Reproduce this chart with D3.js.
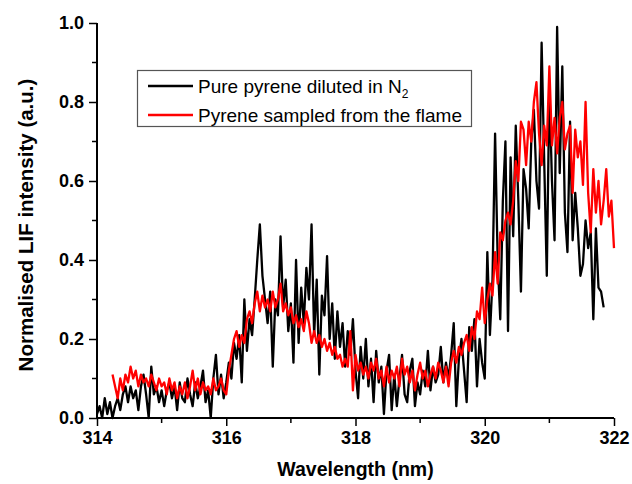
<!DOCTYPE html>
<html>
<head>
<meta charset="utf-8">
<script src="https://cdn.jsdelivr.net/npm/d3@7/dist/d3.min.js"></script>
<style>
  html, body { margin: 0; padding: 0; background: #fff; }
  svg { display: block; font-family: "Liberation Sans", Arial, Helvetica, sans-serif; }
</style>
</head>
<body>
<svg id="chart" width="632" height="484"></svg>
<script>
// LIF excitation spectra of pyrene, sampled every 0.04 nm
const wavelengthStep = 0.04;
const pureStart = 314.00;   // pure pyrene diluted in N2
const flameStart = 314.24;  // pyrene sampled from the flame

const pureIntensity = [
  0.01, 0.03, 0.00, 0.05, 0.01, 0.04, 0.00, 0.03, 0.05, 0.02,
  0.06, 0.08, 0.04, 0.08, 0.05, 0.07, 0.02, 0.08, 0.11, 0.06,
  0.00, 0.13, 0.06, 0.08, 0.04, 0.07, 0.03, 0.07, 0.09, 0.05,
  0.08, 0.02, 0.09, 0.05, 0.04, 0.10, 0.06, 0.03, 0.09, 0.05,
  0.08, 0.12, 0.04, 0.07, 0.00, 0.10, 0.16, 0.06, 0.11, 0.05,
  0.09, 0.14, 0.10, 0.19, 0.15, 0.21, 0.09, 0.30, 0.17, 0.25,
  0.21, 0.30, 0.40, 0.49, 0.36, 0.30, 0.24, 0.32, 0.13, 0.30,
  0.26, 0.46, 0.28, 0.35, 0.22, 0.29, 0.14, 0.40, 0.19, 0.33,
  0.24, 0.38, 0.30, 0.49, 0.21, 0.35, 0.11, 0.31, 0.26, 0.41,
  0.20, 0.29, 0.15, 0.27, 0.18, 0.24, 0.13, 0.22, 0.16, 0.25,
  0.12, 0.05, 0.18, 0.10, 0.20, 0.08, 0.15, 0.04, 0.17, 0.09,
  0.13, 0.01, 0.12, 0.16, 0.02, 0.11, 0.03, 0.10, 0.16, 0.06,
  0.04, 0.12, 0.15, 0.03, 0.09, 0.06, 0.12, 0.08, 0.17, 0.07,
  0.13, 0.09, 0.11, 0.18, 0.09, 0.14, 0.10, 0.16, 0.24, 0.03,
  0.15, 0.20, 0.12, 0.04, 0.23, 0.17, 0.25, 0.08, 0.20, 0.14,
  0.10, 0.42, 0.21, 0.35, 0.72, 0.40, 0.25, 0.55, 0.70, 0.22,
  0.66, 0.46, 0.74, 0.55, 0.32, 0.63, 0.58, 0.48, 0.70, 0.78,
  0.60, 0.53, 0.95, 0.65, 0.36, 0.84, 0.60, 0.45, 0.99, 0.62,
  0.89, 0.52, 0.42, 0.75, 0.45, 0.57, 0.48, 0.36, 0.39, 0.50,
  0.43, 0.47, 0.25, 0.48, 0.33, 0.32, 0.28
];

const flameIntensity = [
  0.11, 0.08, 0.05, 0.10, 0.07, 0.11, 0.09, 0.13, 0.10, 0.12,
  0.08, 0.11, 0.09, 0.10, 0.08, 0.11, 0.09, 0.07, 0.10, 0.08,
  0.09, 0.06, 0.10, 0.07, 0.09, 0.05, 0.08, 0.06, 0.09, 0.05,
  0.08, 0.12, 0.07, 0.10, 0.06, 0.09, 0.07, 0.08, 0.06, 0.10,
  0.07, 0.08, 0.10, 0.07, 0.06, 0.12, 0.16, 0.20, 0.22, 0.18,
  0.21, 0.19, 0.25, 0.27, 0.24, 0.29, 0.32, 0.27, 0.31, 0.28,
  0.30, 0.27, 0.32, 0.28, 0.30, 0.34, 0.27, 0.29, 0.26, 0.28,
  0.24, 0.26, 0.23, 0.25, 0.22, 0.27, 0.24, 0.19, 0.22, 0.19,
  0.21, 0.18, 0.20, 0.17, 0.19, 0.16, 0.18, 0.15, 0.16, 0.13,
  0.15, 0.13, 0.22, 0.07, 0.16, 0.12, 0.14, 0.11, 0.13, 0.10,
  0.14, 0.12, 0.15, 0.10, 0.12, 0.08, 0.13, 0.09, 0.12, 0.10,
  0.13, 0.08, 0.15, 0.11, 0.13, 0.09, 0.12, 0.07, 0.11, 0.14,
  0.10, 0.12, 0.08, 0.11, 0.13, 0.10, 0.14, 0.12, 0.09, 0.13,
  0.08, 0.14, 0.17, 0.14, 0.18, 0.16, 0.19, 0.21, 0.17, 0.23,
  0.20, 0.27, 0.25, 0.33, 0.24, 0.30, 0.34, 0.31, 0.42, 0.34,
  0.47, 0.45, 0.50, 0.52, 0.49, 0.55, 0.65, 0.60, 0.75, 0.73,
  0.64, 0.75, 0.70, 0.80, 0.85, 0.72, 0.64, 0.74, 0.69, 0.89,
  0.69, 0.76, 0.67, 0.76, 0.80, 0.68, 0.72, 0.74, 0.57, 0.73,
  0.66, 0.70, 0.59, 0.80, 0.57, 0.47, 0.63, 0.52, 0.60, 0.49,
  0.55, 0.63, 0.51, 0.55, 0.43
];

const xTickValues = [314, 316, 318, 320, 322];
const xMinorTicks = [315, 317, 319, 321];
const yTickValues = [0.0, 0.2, 0.4, 0.6, 0.8, 1.0];
const yMinorTicks = [0.1, 0.3, 0.5, 0.7, 0.9];

const seriesNames = ["Pure pyrene diluted in N", "Pyrene sampled from the flame"];
const seriesColors = ["#000000", "#ff0000"];

const svg = d3.select("#chart");
const plot = { left: 97, right: 614, top: 23, bottom: 418 };

const x = d3.scaleLinear().domain([314, 322]).range([plot.left, plot.right]);
const y = d3.scaleLinear().domain([0, 1]).range([plot.bottom, plot.top]);

const toPoints = (start, values) => values.map((v, i) => ({ w: start + i * wavelengthStep, v }));
const pureData = toPoints(pureStart, pureIntensity);
const flameData = toPoints(flameStart, flameIntensity);

const line = d3.line().x(d => x(d.w)).y(d => y(d.v));

// spectra: pure pyrene underneath, flame sample on top
svg.append("path").datum(pureData)
  .attr("d", line).attr("fill", "none")
  .attr("stroke", seriesColors[0]).attr("stroke-width", 2.3).attr("stroke-linejoin", "round");
svg.append("path").datum(flameData)
  .attr("d", line).attr("fill", "none")
  .attr("stroke", seriesColors[1]).attr("stroke-width", 2.3).attr("stroke-linejoin", "round");

// axes
const xAxis = svg.append("g").attr("transform", `translate(0,${plot.bottom})`)
  .call(d3.axisBottom(x).tickValues(xTickValues).tickFormat(d3.format("d"))
    .tickSize(8).tickPadding(5));
xAxis.append("g").selectAll("line").data(xMinorTicks).join("line")
  .attr("x1", d => x(d)).attr("x2", d => x(d)).attr("y1", 0).attr("y2", 5)
  .attr("stroke", "#000").attr("stroke-width", 1.5);

const yAxis = svg.append("g").attr("transform", `translate(${plot.left},0)`)
  .call(d3.axisLeft(y).tickValues(yTickValues).tickFormat(d3.format(".1f"))
    .tickSize(8).tickPadding(5));
yAxis.append("g").selectAll("line").data(yMinorTicks).join("line")
  .attr("y1", d => y(d)).attr("y2", d => y(d)).attr("x1", 0).attr("x2", -5)
  .attr("stroke", "#000").attr("stroke-width", 1.5);

[xAxis, yAxis].forEach(g => {
  g.select(".domain").attr("stroke", "#000").attr("stroke-width", 2);
  g.selectAll(".tick line").attr("stroke", "#000").attr("stroke-width", 1.5);
  g.selectAll(".tick text")
    .attr("font-family", "'Liberation Sans', Arial, sans-serif")
    .attr("font-size", 18).attr("font-weight", "bold").attr("fill", "#000");
});
xAxis.select(".domain").attr("d", `M${plot.left},0H${plot.right}`);
yAxis.select(".domain").attr("d", `M0,${plot.bottom}V${plot.top}`);

// axis titles
svg.append("text")
  .attr("x", (plot.left + plot.right) / 2).attr("y", 476)
  .attr("text-anchor", "middle")
  .attr("font-size", 19.5).attr("font-weight", "bold")
  .text("Wavelength (nm)");
svg.append("text")
  .attr("transform", `translate(33,225) rotate(-90)`)
  .attr("text-anchor", "middle")
  .attr("font-size", 20.5).attr("font-weight", "bold")
  .text("Normalised LIF intensity (a.u.)");

// legend
const legend = svg.append("g");
legend.append("rect")
  .attr("x", 137.5).attr("y", 70.5).attr("width", 334).attr("height", 56)
  .attr("fill", "#fff").attr("stroke", "#555").attr("stroke-width", 1.2);
const rowsY = [86, 115];
seriesNames.forEach((name, i) => {
  legend.append("line")
    .attr("x1", 148).attr("x2", 193).attr("y1", rowsY[i]).attr("y2", rowsY[i])
    .attr("stroke", seriesColors[i]).attr("stroke-width", 2.3);
  const t = legend.append("text")
    .attr("x", 198).attr("y", rowsY[i] + 6.5)
    .attr("font-size", 19).attr("fill", "#000")
    .text(name);
  if (i === 0) {
    t.append("tspan").attr("dy", 5).attr("font-size", 12).text("2");
  }
});
</script>
</body>
</html>
